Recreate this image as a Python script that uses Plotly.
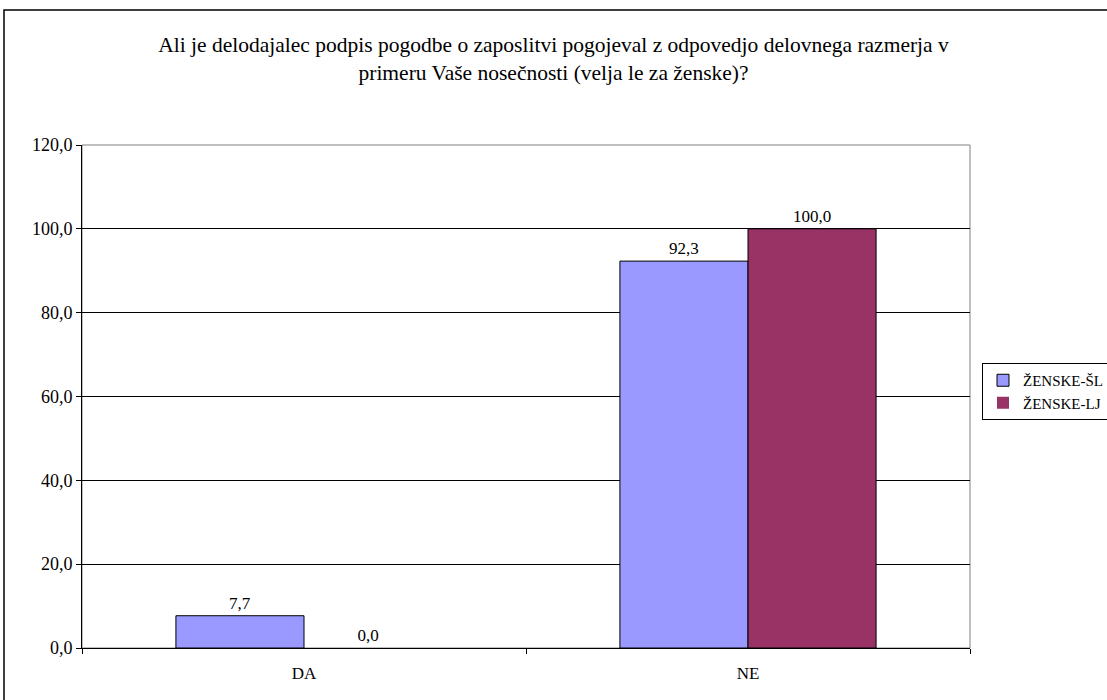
import plotly.graph_objects as go

categories = ["DA", "NE"]
series_names = ["ŽENSKE-ŠL", "ŽENSKE-LJ"]
zenske_sl = [7.7, 92.3]
zenske_lj = [0.0, 100.0]
y_ticks = [0, 20, 40, 60, 80, 100, 120]

title_text = ("Ali je delodajalec podpis pogodbe o zaposlitvi pogojeval z odpovedjo delovnega razmerja v"
              "<br>primeru Vaše nosečnosti (velja le za ženske)?")

FONT = "'Liberation Serif', 'Times New Roman', Times, serif"
W, H = 1107, 700
ML, MR, MT, MB = 82, 137, 145, 52
PW, PH = W - ML - MR, H - MT - MB

fig = go.Figure()
for name, vals, color in [(series_names[0], zenske_sl, "#9999FF"),
                          (series_names[1], zenske_lj, "#993366")]:
    fig.add_trace(go.Bar(
        x=categories, y=vals, name=name,
        marker=dict(color=color,
                    line=dict(color="black", width=[1 if v > 0 else 0 for v in vals])),
        texttemplate="%{y:.1f}", textposition="outside",
        textfont=dict(family=FONT, size=17, color="black"),
        cliponaxis=False,
    ))

def px_x(p):
    return (p - ML) / PW

def px_y(p):
    return 1 - (p - MT) / PH

fig.update_layout(
    width=W, height=H,
    margin=dict(l=ML, r=MR, t=MT, b=MB, autoexpand=False),
    paper_bgcolor="white", plot_bgcolor="white",
    separators=", ",
    barmode="group", bargap=0.423, bargroupgap=0,
    font=dict(family=FONT, size=17, color="black"),
    title=dict(text=title_text, x=0.5, xref="container", xanchor="center",
               y=1 - 52 / H, yanchor="middle",
               font=dict(family=FONT, size=21.5, color="black")),
    xaxis=dict(type="category", showgrid=False, showline=True, linecolor="black",
               linewidth=1, ticks="outside", ticklen=5, tickcolor="black",
               tickson="boundaries", ticklabelstandoff=10,
               tickfont=dict(family=FONT, size=17)),
    yaxis=dict(range=[0, 120], tickvals=y_ticks, tickformat=".1f",
               showgrid=True, gridcolor="black", gridwidth=1,
               showline=True, linecolor="black", linewidth=1,
               ticks="outside", ticklen=5, tickcolor="black",
               zeroline=False, tickfont=dict(family=FONT, size=18)),
    legend=dict(x=px_x(982), y=px_y(363), xanchor="left", yanchor="top",
                bordercolor="black", borderwidth=1, bgcolor="white",
                font=dict(family=FONT, size=15), itemwidth=30,
                tracegroupgap=4),
    shapes=[
        # plot area frame
        dict(type="rect", xref="paper", yref="paper", x0=0, x1=1, y0=0, y1=1,
             line=dict(color="#808080", width=1), layer="below"),
        # outer chart border
        dict(type="rect", xref="paper", yref="paper",
             x0=px_x(4), x1=px_x(1120), y0=px_y(720), y1=px_y(10),
             line=dict(color="black", width=1.5)),
    ],
)

fig.write_html("out.html")
